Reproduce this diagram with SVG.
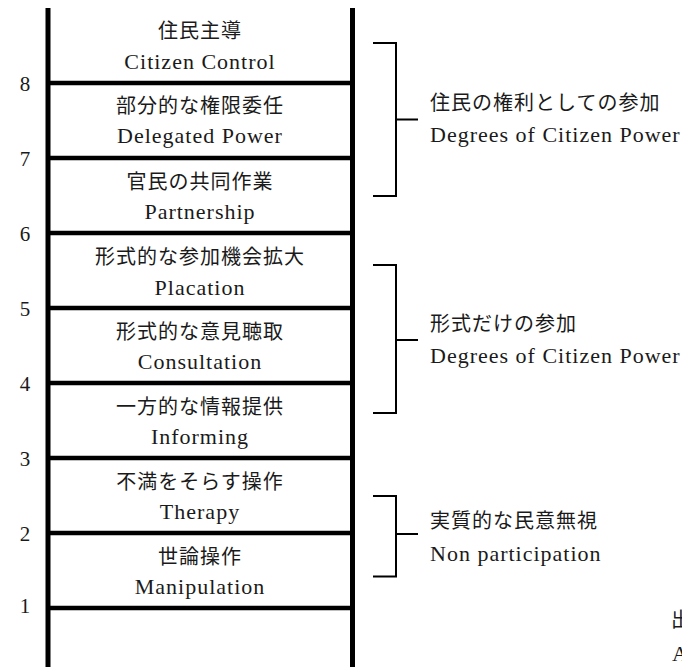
<svg xmlns="http://www.w3.org/2000/svg" width="682" height="667" viewBox="0 0 682 667">
<style>
.rail{stroke:#000;stroke-width:5;fill:none}
.rung{stroke:#000;stroke-width:4.5;fill:none}
.br{stroke:#000;stroke-width:2;fill:none}
.jp{font-family:"Liberation Serif","Noto Sans CJK JP",serif;font-size:20px;letter-spacing:1px;fill:#1a1a1a}
.en{font-family:"Liberation Serif","Noto Sans CJK JP",serif;font-size:22px;letter-spacing:1px;fill:#1a1a1a}
.num{font-family:"Liberation Serif",serif;font-size:21px;fill:#1a1a1a;text-anchor:middle}
.c{text-anchor:middle}
</style>
<rect width="682" height="667" fill="#fff"/>
<g id="ladder">
<line class="rail" x1="48" y1="8" x2="48" y2="667"/>
<line class="rail" x1="352.5" y1="8" x2="352.5" y2="667"/>
<line class="rung" x1="48" y1="83" x2="352.5" y2="83"/>
<line class="rung" x1="48" y1="158" x2="352.5" y2="158"/>
<line class="rung" x1="48" y1="233" x2="352.5" y2="233"/>
<line class="rung" x1="48" y1="308" x2="352.5" y2="308"/>
<line class="rung" x1="48" y1="383" x2="352.5" y2="383"/>
<line class="rung" x1="48" y1="458" x2="352.5" y2="458"/>
<line class="rung" x1="48" y1="533" x2="352.5" y2="533"/>
<line class="rung" x1="48" y1="608" x2="352.5" y2="608"/>
</g>
<g id="numbers">
<text class="num" x="25" y="90.5">8</text>
<text class="num" x="25" y="165.5">7</text>
<text class="num" x="25" y="240.5">6</text>
<text class="num" x="25" y="315.5">5</text>
<text class="num" x="25" y="390.5">4</text>
<text class="num" x="25" y="465.5">3</text>
<text class="num" x="25" y="540.5">2</text>
<text class="num" x="25" y="612.5">1</text>
</g>
<g id="rung8"><text class="jp c" x="200" y="38">住民主導</text><text class="en c" x="200" y="68.5">Citizen Control</text></g>
<g id="rung7"><text class="jp c" x="200" y="113">部分的な権限委任</text><text class="en c" x="200" y="143">Delegated Power</text></g>
<g id="rung6"><text class="jp c" x="200" y="188.5">官民の共同作業</text><text class="en c" x="200" y="219">Partnership</text></g>
<g id="rung5"><text class="jp c" x="200" y="264">形式的な参加機会拡大</text><text class="en c" x="200" y="294.5">Placation</text></g>
<g id="rung4"><text class="jp c" x="200" y="338.5">形式的な意見聴取</text><text class="en c" x="200" y="369">Consultation</text></g>
<g id="rung3"><text class="jp c" x="200" y="413.5">一方的な情報提供</text><text class="en c" x="200" y="444">Informing</text></g>
<g id="rung2"><text class="jp c" x="200" y="488.5">不満をそらす操作</text><text class="en c" x="200" y="519">Therapy</text></g>
<g id="rung1"><text class="jp c" x="200" y="563.5">世論操作</text><text class="en c" x="200" y="594">Manipulation</text></g>
<g id="connectors">
<path class="br" d="M373 43H396V196H373M396 119.5H418"/>
<path class="br" d="M373 265H396V413H373M396 340H418"/>
<path class="br" d="M373 496H396V576.5H373M396 534H418"/>
</g>
<g id="group-citizen-power"><text class="jp" x="430" y="109.5">住民の権利としての参加</text><text class="en" x="430" y="142">Degrees of Citizen Power</text></g>
<g id="group-tokenism"><text class="jp" x="430" y="330.5">形式だけの参加</text><text class="en" x="430" y="363">Degrees of Citizen Power</text></g>
<g id="group-nonparticipation"><text class="jp" x="430" y="527.5">実質的な民意無視</text><text class="en" x="430" y="561">Non participation</text></g>
<g id="source"><text class="jp" x="671" y="626.5">出</text><text class="en" x="672" y="661">A</text></g>
</svg>
